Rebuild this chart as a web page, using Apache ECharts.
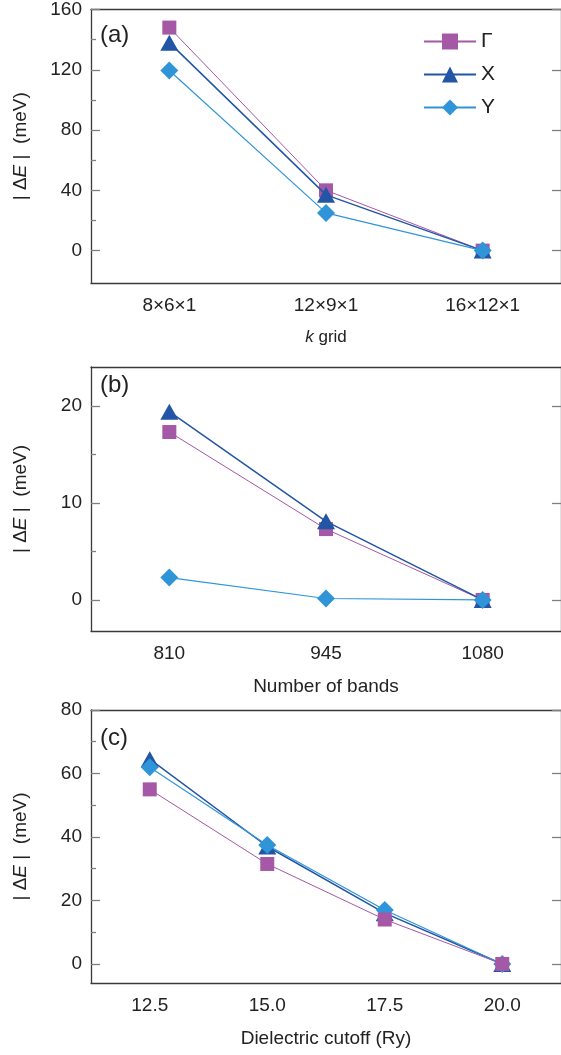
<!DOCTYPE html>
<html><head><meta charset="utf-8">
<script src="https://cdn.jsdelivr.net/npm/echarts@6/dist/echarts.min.js"></script>
<style>html,body{margin:0;padding:0;background:#fff}#c{width:561px;height:1055px}</style>
</head><body><div id="c"></div>
<script>
// ---- data ----
const seriesNames = ['Γ', 'X', 'Y'];
const kGridCats = ['8×6×1', '12×9×1', '16×12×1'];
const kGamma = [148, 40, 0];
const kX = [138, 37, 0];
const kY = [119.5, 25, 0];

const bandCats = ['810', '945', '1080'];
const bGamma = [17.3, 7.3, 0];
const bX = [19.4, 8.1, 0];
const bY = [2.3, 0.15, 0];

const cutCats = ['12.5', '15.0', '17.5', '20.0'];
const cGamma = [55, 31.5, 14, 0];
const cX = [64.5, 37, 16, 0];
const cY = [62, 37.5, 17, 0];

const yTicksA = [0, 40, 80, 120, 160], yMinorA = [20, 60, 100, 140];
const yTicksB = [0, 10, 20], yMinorB = [5, 15];
const yTicksC = [0, 20, 40, 60, 80], yMinorC = [10, 30, 50, 70];

// ---- style ----
const FONT = 'Liberation Sans';
const colors = {'Γ': '#a458a6', 'X': '#2255a5', 'Y': '#2f95d8'};
const symbols = {'Γ': 'rect', 'X': 'triangle', 'Y': 'diamond'};
const symSize = {'Γ': 14, 'X': [18, 16], 'Y': 18};
const lineW = {'Γ': 1, 'X': 1.5, 'Y': 1.2};
const axisCol = '#3a3a3a', tickCol = '#808080';

const grids = [
  {left: 91, right: -6, top: 9, height: 274},
  {left: 91, right: -6, top: 367, height: 264},
  {left: 91, right: -6, top: 710, height: 273}
];
const yRanges = [[-21.5, 160], [-3.2, 24], [-6, 80]];
const yTicks = [yTicksA, yTicksB, yTicksC];
const yMinors = [yMinorA, yMinorB, yMinorC];
const cats = [kGridCats, bandCats, cutCats];
const xNames = ['{i|k} grid', 'Number of bands', 'Dielectric cutoff (Ry)'];
const data = [
  {'Γ': kGamma, 'X': kX, 'Y': kY},
  {'Γ': bGamma, 'X': bX, 'Y': bY},
  {'Γ': cGamma, 'X': cX, 'Y': cY}
];
const zOrder = [{'Γ': 2, 'X': 3, 'Y': 4}, {'Γ': 2, 'X': 3, 'Y': 4}, {'Γ': 4, 'X': 2, 'Y': 3}];

const xAxes = [], yAxes = [], series = [], graphics = [];
grids.forEach((g, i) => {
  xAxes.push({
    type: 'category', gridIndex: i, data: cats[i], position: 'bottom', boundaryGap: true,
    axisLine: {onZero: false, lineStyle: {color: axisCol, width: 1.3}},
    axisTick: {inside: true, alignWithLabel: true, length: 9, lineStyle: {color: tickCol, width: 1.3}},
    axisLabel: {color: '#222', fontFamily: FONT, fontSize: 19, margin: 13},
    name: xNames[i], nameLocation: 'middle', nameGap: i === 0 ? 46 : 46,
    nameTextStyle: {color: '#222', fontFamily: FONT, fontSize: i === 0 ? 17 : 19,
      rich: {i: {fontStyle: 'italic', fontFamily: FONT, fontSize: 17, color: '#222'}}},
    splitLine: {show: false}
  });
  xAxes.push({
    type: 'category', gridIndex: i, data: cats[i], position: 'top', boundaryGap: true,
    axisLine: {onZero: false, lineStyle: {color: axisCol, width: 1.3}},
    axisTick: {inside: true, alignWithLabel: true, length: 9, lineStyle: {color: tickCol, width: 1.3}},
    axisLabel: {show: false}, splitLine: {show: false}
  });
  const [mn, mx] = yRanges[i];
  yAxes.push({
    type: 'value', gridIndex: i, min: mn, max: mx, position: 'left',
    axisLine: {show: true, onZero: false, lineStyle: {color: axisCol, width: 1.3}},
    axisTick: {show: true, inside: true, length: 9, customValues: yTicks[i], lineStyle: {color: tickCol, width: 1.3}},
    axisLabel: {customValues: yTicks[i], color: '#222', fontFamily: FONT, fontSize: 19, margin: 9},
    splitLine: {show: false},
    name: '{n|| Δ}{i|E}{n| |  (meV)}', nameLocation: 'middle', nameRotate: 90, nameGap: 61,
    nameTextStyle: {color: '#222', fontFamily: FONT, fontSize: 19,
      rich: {n: {fontFamily: FONT, fontSize: 19, color: '#222'}, i: {fontFamily: FONT, fontSize: 19, fontStyle: 'italic', color: '#222'}}}
  });
  yAxes.push({
    type: 'value', gridIndex: i, min: mn, max: mx, position: 'left',
    axisLine: {show: false, onZero: false},
    axisTick: {show: true, inside: true, length: 5, customValues: yMinors[i], lineStyle: {color: tickCol, width: 1.3}},
    axisLabel: {show: false}, splitLine: {show: false}
  });
  yAxes.push({
    type: 'value', gridIndex: i, min: mn, max: mx, position: 'right',
    axisLine: {show: true, onZero: false, lineStyle: {color: axisCol, width: 1.3}},
    axisTick: {show: true, inside: true, length: 9, customValues: yTicks[i], lineStyle: {color: tickCol, width: 1.3}},
    axisLabel: {show: false}, splitLine: {show: false}
  });
  seriesNames.forEach(nm => {
    series.push({
      name: nm, type: 'line', xAxisIndex: i * 2, yAxisIndex: i * 3,
      data: data[i][nm], symbol: symbols[nm], symbolSize: symSize[nm], z: zOrder[i][nm],
      showAllSymbol: true,
      itemStyle: {color: colors[nm], opacity: 1},
      lineStyle: {color: colors[nm], width: lineW[nm]},
      emphasis: {disabled: true}, animation: false
    });
  });
});
const panelLabels = ['(a)', '(b)', '(c)'];
const labelTops = [23, 373, 726];
panelLabels.forEach((t, i) => graphics.push({
  type: 'text', left: 100, top: labelTops[i],
  style: {text: t, fontFamily: FONT, fontSize: 24, fill: '#222'}
}));

const chart = echarts.init(document.getElementById('c'), null, {renderer: 'canvas'});
chart.setOption({
  backgroundColor: '#fff',
  animation: false,
  grid: grids,
  xAxis: xAxes,
  yAxis: yAxes,
  series: series,
  graphic: graphics,
  legend: {
    data: seriesNames, orient: 'vertical', left: 418, top: 26,
    itemWidth: 52, itemHeight: 20, itemGap: 12, itemTextGap: 8,
    textStyle: {fontFamily: FONT, fontSize: 21, color: '#222'},
    selectedMode: false
  }
});
</script></body></html>
